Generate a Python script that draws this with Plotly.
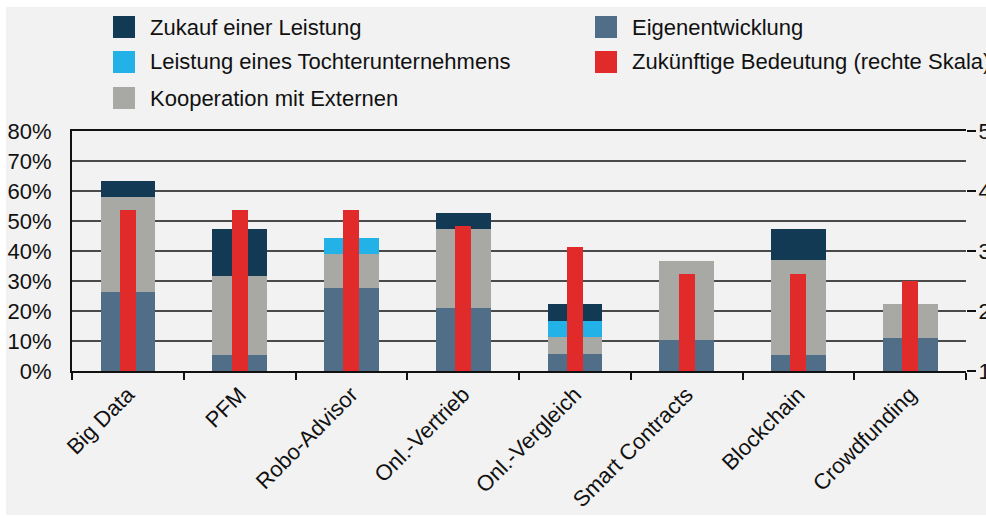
import plotly.graph_objects as go

# ---------------- data ----------------
categories = ["Big Data", "PFM", "Robo-Advisor", "Onl.-Vertrieb", "Onl.-Vergleich",
              "Smart Contracts", "Blockchain", "Crowdfunding"]
eigenentwicklung = [26.3, 5.3, 27.8, 21.1, 5.6, 10.5, 5.3, 11.1]
kooperation = [31.6, 26.3, 11.1, 26.3, 5.6, 26.3, 31.6, 11.1]
tochter = [0, 0, 5.6, 0, 5.6, 0, 0, 0]
zukauf = [5.3, 15.8, 0, 5.3, 5.6, 0, 10.5, 0]
bedeutung = [3.68, 3.68, 3.68, 3.42, 3.07, 2.62, 2.62, 2.5]

left_ticks = [0, 10, 20, 30, 40, 50, 60, 70, 80]
left_labels = [f"{v}%" for v in left_ticks]
right_ticks = [1, 2, 3, 4, 5]

# ---------------- style ----------------
C_ZUKAUF = "#133a55"
C_TOCHTER = "#22b2e8"
C_KOOP = "#a8a8a4"
C_EIGEN = "#506e87"
C_RED = "#e12a2a"
FONT = "Liberation Sans, Arial, sans-serif"
FS = 22

OFF = 0  # page body margin (removed via post_script)
W, H = 986, 518
ML, MR, MT, MB = 72, 20, 131, 147
PW = W - ML - MR
PH = H - MT - MB


def px2x(px):  # page pixel -> paper
    return (px - OFF - ML) / PW


def px2y(py):
    return (H - MB - (py - OFF)) / PH


fig = go.Figure()
stack_w = 0.49
for name, vals, col in [("Eigenentwicklung", eigenentwicklung, C_EIGEN),
                        ("Kooperation mit Externen", kooperation, C_KOOP),
                        ("Leistung eines Tochterunternehmens", tochter, C_TOCHTER),
                        ("Zukauf einer Leistung", zukauf, C_ZUKAUF)]:
    fig.add_trace(go.Bar(x=categories, y=vals, name=name, marker_color=col,
                         marker_line_width=0, width=stack_w, showlegend=False))

fig.add_trace(go.Bar(x=categories, y=bedeutung, name="Zukünftige Bedeutung (rechte Skala)",
                     marker_color=C_RED, marker_line_width=0, width=0.143,
                     yaxis="y2", showlegend=False))

# ---------------- manual legend ----------------
legend_items = [
    ("Zukauf einer Leistung", C_ZUKAUF, 0, 0),
    ("Leistung eines Tochterunternehmens", C_TOCHTER, 0, 1),
    ("Kooperation mit Externen", C_KOOP, 0, 2),
    ("Eigenentwicklung", C_EIGEN, 1, 0),
    ("Zukünftige Bedeutung (rechte Skala)", C_RED, 1, 1),
]
col_x = [113, 595]
row_y = [27, 62, 98]
sw = 22
shapes = [dict(type="rect", xref="paper", yref="paper", layer="below",
               x0=px2x(6), x1=px2x(986), y0=px2y(515), y1=px2y(7),
               fillcolor="#f2f2f2", line_width=0)]
annotations = []
for text, col, c, r in legend_items:
    cx, cy = col_x[c], row_y[r]
    shapes.append(dict(type="rect", xref="paper", yref="paper",
                       x0=px2x(cx), x1=px2x(cx + sw), y0=px2y(cy + sw / 2), y1=px2y(cy - sw / 2),
                       fillcolor=col, line_width=0))
    annotations.append(dict(text=text, xref="paper", yref="paper", x=px2x(cx + 35), y=px2y(cy),
                            xanchor="left", yanchor="middle", showarrow=False,
                            font=dict(family=FONT, size=FS, color="#111")))

fig.update_layout(
    width=W, height=H,
    margin=dict(l=ML, r=MR, t=MT, b=MB, autoexpand=False),
    paper_bgcolor="white",
    plot_bgcolor="rgba(0,0,0,0)",
    barmode="stack",
    bargap=0.5,
    showlegend=False,
    font=dict(family=FONT, size=FS, color="#111"),
    shapes=shapes,
    annotations=annotations,
    xaxis=dict(
        type="category", tickangle=-45, showline=True, linecolor="#111", linewidth=2,
        mirror=True, ticks="outside", tickson="boundaries", ticklen=7, tickwidth=2,
        tickcolor="#111", showgrid=False, automargin=False,
        tickfont=dict(family=FONT, size=FS, color="#111"),
    ),
    yaxis=dict(
        range=[0, 80], tickvals=left_ticks, ticktext=left_labels, showline=True,
        linecolor="#111", linewidth=2, showgrid=True, gridcolor="#4a4a4a", gridwidth=2,
        ticks="", ticklabelstandoff=14, zeroline=False, automargin=False,
        tickfont=dict(family=FONT, size=FS, color="#111"),
    ),
    yaxis2=dict(
        range=[1, 5], tickvals=right_ticks, overlaying="y", side="right",
        showgrid=False, showline=False, zeroline=False, ticks="outside", ticklen=9,
        tickwidth=2, tickcolor="#111", automargin=False, ticklabelstandoff=-2,
        tickfont=dict(family=FONT, size=FS, color="#111"),
    ),
)

fig.write_html("out.html", config={"displayModeBar": False},
               post_script="document.body.style.margin='0px';document.body.style.overflow='hidden';")
